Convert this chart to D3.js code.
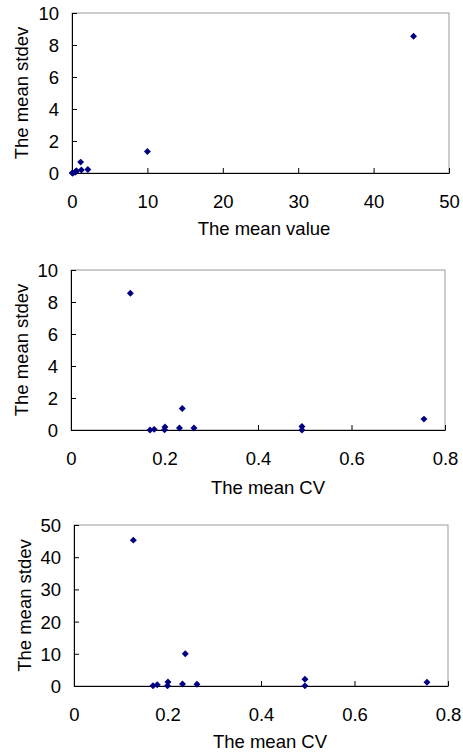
<!DOCTYPE html>
<html><head><meta charset="utf-8">
<script src="https://cdn.jsdelivr.net/npm/d3@7"></script>
<style>
html,body{margin:0;padding:0;background:#fff;}
text{font-family:"Liberation Sans",Arial,sans-serif;fill:#000;}
</style></head>
<body>
<svg id="c" width="463" height="753"></svg>
<script>
// Data: one entry per item
const meanValue = [45.3, 10.0, 1.15, 2.1, 0.05, 1.24, 0.1, 0.6, 0.55, 0.4, 0.08];
const meanStdev = [8.55, 1.34, 0.68, 0.22, 0.0, 0.19, 0.01, 0.12, 0.12, 0.04, 0.0];
const meanCV    = [0.127, 0.238, 0.755, 0.494, 0.494, 0.201, 0.2, 0.232, 0.263, 0.178, 0.169];

const valueTicks = [0, 10, 20, 30, 40, 50];
const cvTicks = [0, 0.2, 0.4, 0.6, 0.8];
const stdevTicks = [0, 2, 4, 6, 8, 10];
const valueYTicks = [0, 10, 20, 30, 40, 50];

const panels = [
  {xs: meanValue, ys: meanStdev, xd:[0,50], yd:[0,10], xt: valueTicks, yt: stdevTicks,
   xTitle:"The mean value", yTitle:"The mean stdev",
   l:72, r:449, t:13, b:173, titleX:264, titleY:235, yTitleX:28},
  {xs: meanCV, ys: meanStdev, xd:[0,0.8], yd:[0,10], xt: cvTicks, yt: stdevTicks,
   xTitle:"The mean CV", yTitle:"The mean stdev",
   l:71, r:445, t:270, b:430, titleX:268, titleY:494, yTitleX:28},
  {xs: meanCV, ys: meanValue, xd:[0,0.8], yd:[0,50], xt: cvTicks, yt: valueYTicks,
   xTitle:"The mean CV", yTitle:"The mean stdev",
   l:74, r:448, t:525, b:686, titleX:270, titleY:748, yTitleX:31}
];

const svg = d3.select("#c");
const fmt = d => (d === 0 ? "0" : String(d));
const FS = 18.5;

panels.forEach(p => {
  const x = d3.scaleLinear().domain(p.xd).range([p.l, p.r]);
  const y = d3.scaleLinear().domain(p.yd).range([p.b, p.t]);
  const g = svg.append("g");

  // plot area border (top/right gray)
  g.append("rect").attr("x", p.l).attr("y", p.t)
    .attr("width", p.r - p.l).attr("height", p.b - p.t)
    .attr("fill", "none").attr("stroke", "#999").attr("stroke-width", 1);

  // x axis
  const xa = g.append("g").attr("transform", `translate(0,${p.b})`)
    .call(d3.axisBottom(x).tickValues(p.xt).tickFormat(fmt).tickSizeInner(-5).tickSizeOuter(0).tickPadding(0));
  xa.select(".domain").attr("stroke", "#000");
  xa.selectAll(".tick line").attr("stroke", "#000");
  xa.selectAll(".tick text").attr("font-size", FS).attr("y", 34.5).attr("dy", 0)
    .style("font-family", '"Liberation Sans",Arial,sans-serif');

  // y axis
  const ya = g.append("g").attr("transform", `translate(${p.l},0)`)
    .call(d3.axisLeft(y).tickValues(p.yt).tickFormat(fmt).tickSizeInner(-5).tickSizeOuter(0).tickPadding(0));
  ya.select(".domain").attr("stroke", "#000");
  ya.selectAll(".tick line").attr("stroke", "#000");
  ya.selectAll(".tick text").attr("font-size", FS).attr("x", -13).attr("dy", "0.35em")
    .style("font-family", '"Liberation Sans",Arial,sans-serif');

  // titles
  g.append("text").attr("x", p.titleX).attr("y", p.titleY)
    .attr("text-anchor", "middle").attr("font-size", FS).text(p.xTitle);
  g.append("text").attr("transform", `translate(${p.yTitleX},${(p.t + p.b) / 2}) rotate(-90)`)
    .attr("text-anchor", "middle").attr("font-size", FS).text(p.yTitle);

  // points: rotated squares (diamonds)
  const sym = d3.symbol().type(d3.symbolSquare).size(24);
  g.selectAll("path.pt").data(p.xs.map((v, i) => [v, p.ys[i]])).enter()
    .append("path").attr("class", "pt")
    .attr("d", sym)
    .attr("transform", d => `translate(${x(d[0])},${y(d[1])}) rotate(45)`)
    .attr("fill", "#000080");
});
</script>
</body></html>
